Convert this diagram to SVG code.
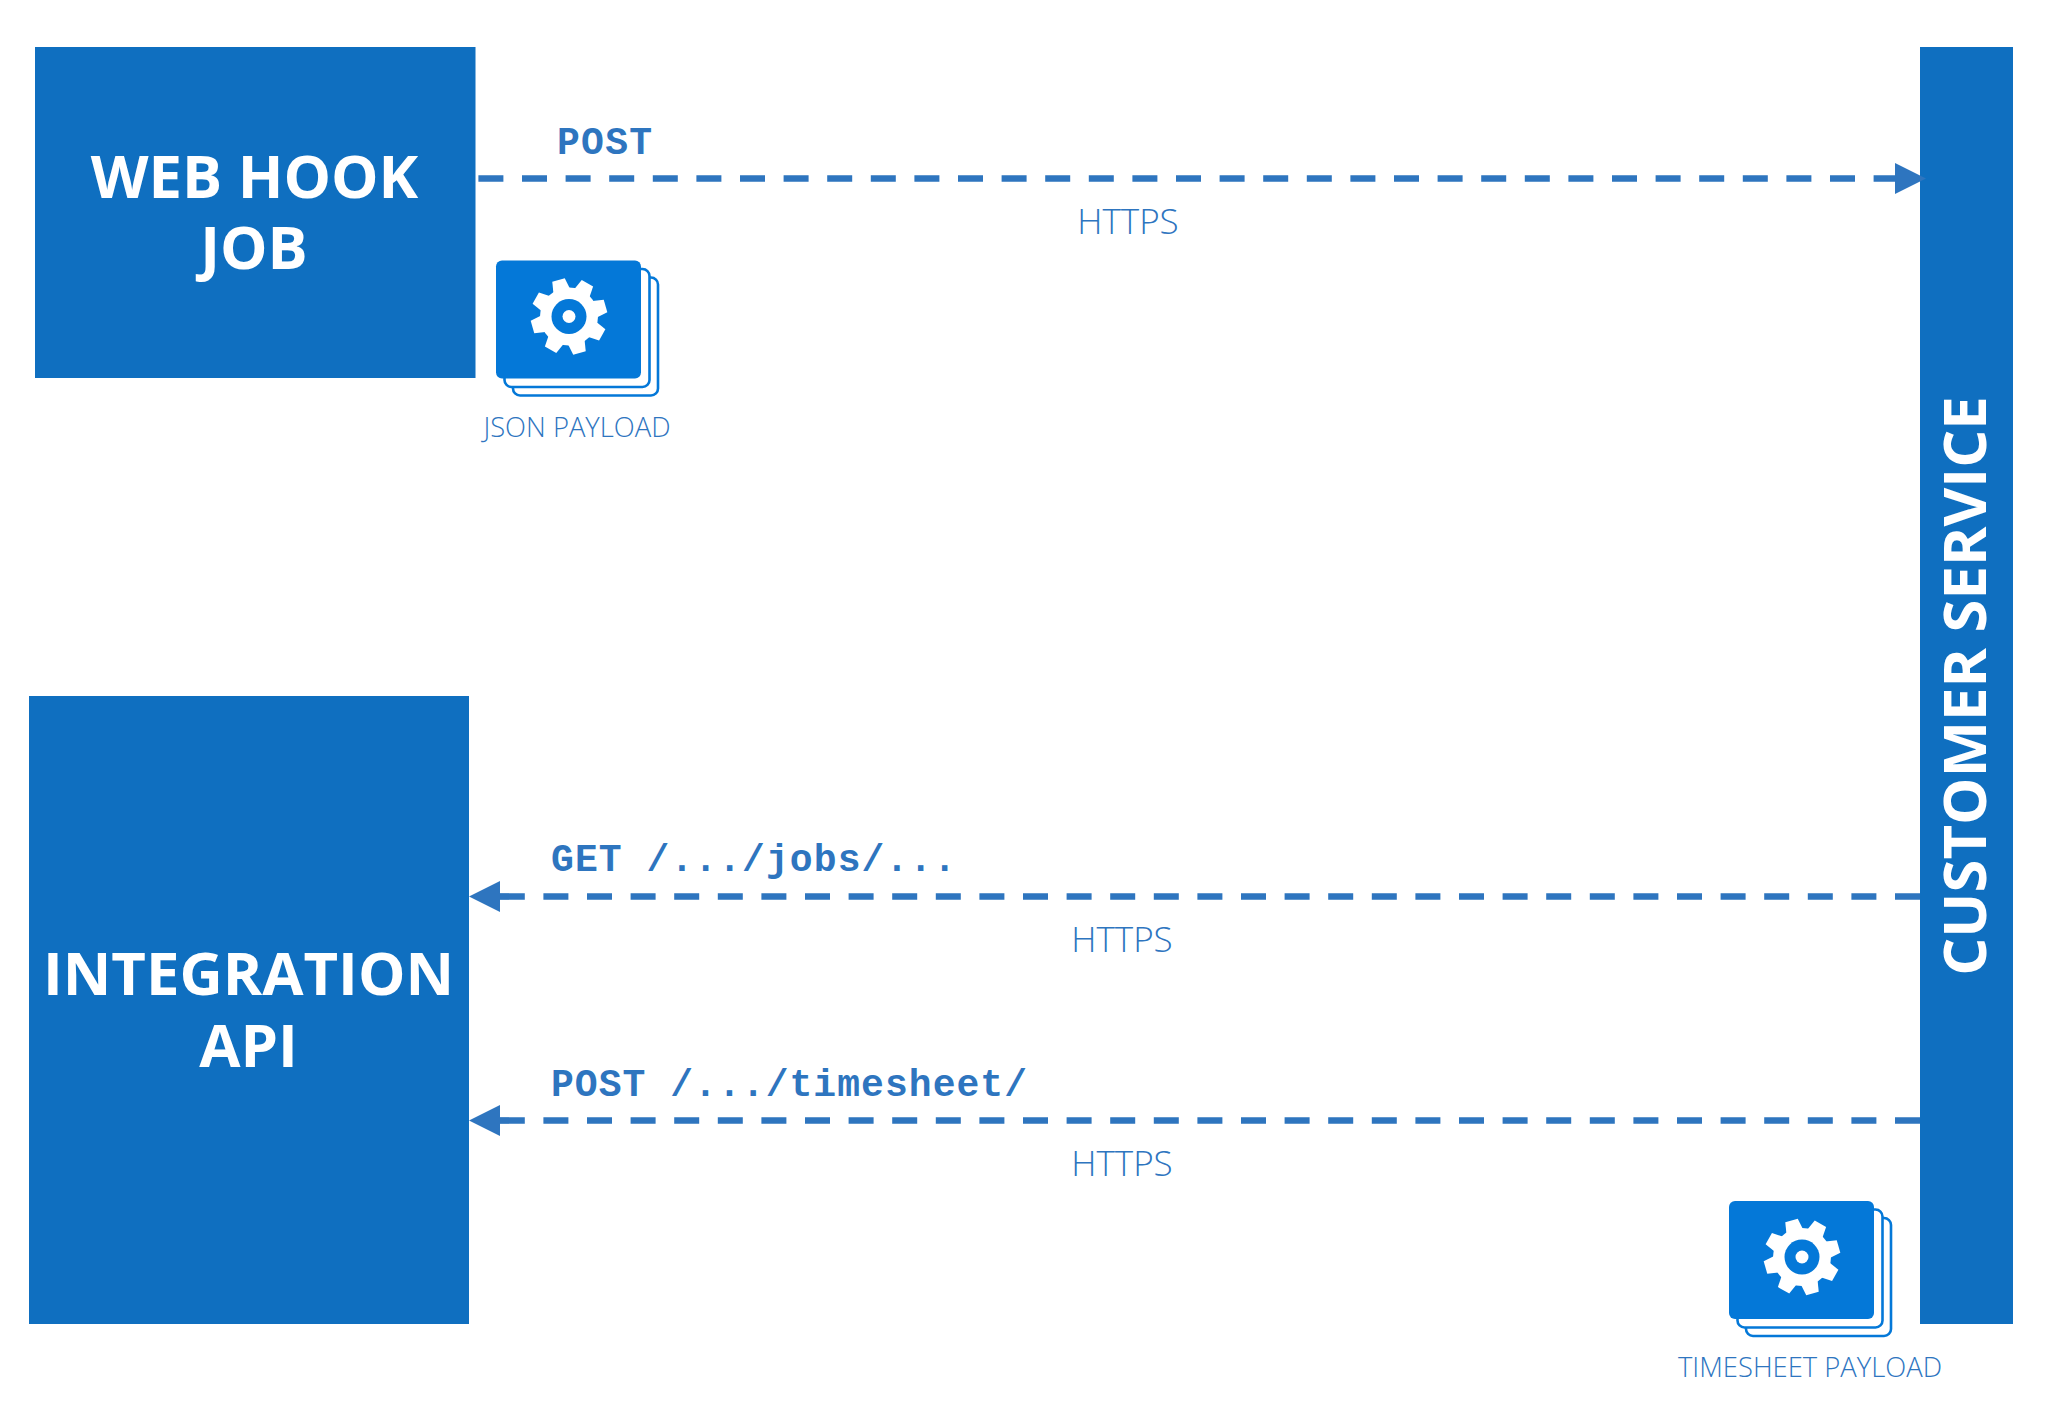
<svg xmlns="http://www.w3.org/2000/svg" width="2048" height="1417" viewBox="0 0 2048 1417">
<style>
.box{fill:#0f6fc0}
.head{font-family:"Open Sans","Noto Sans",sans-serif;font-weight:700;font-size:59.8px;fill:#fff;text-anchor:middle}
.conn{stroke:#2e75bf;stroke-width:6.7;stroke-dasharray:25 18.6;fill:none;marker-end:url(#arrow)}
.verb{font-family:"Liberation Mono",monospace;font-weight:700;font-size:38px;fill:#2e75bf}
.light{font-family:"Open Sans","Noto Sans",sans-serif;font-weight:300;fill:#2e75bf}
.https{font-size:35px;text-anchor:middle}
.pay{font-size:27.4px;text-anchor:middle}
.back{fill:#fff;stroke:#0478d8;stroke-width:2.6}
.front{fill:#0478d8}
</style>
<defs>
<marker id="arrow" markerUnits="userSpaceOnUse" markerWidth="32" markerHeight="32" refX="0" refY="16" orient="auto" viewBox="0 0 32 32"><path d="M0 0.5L31 16L0 31.5Z" fill="#2e75bf"/></marker>
<polygon id="tooth" points="-8.5,-27 -6.5,-38 6.5,-38 8.5,-27" fill="#fff"/>
<g id="stack">
<rect class="back" x="17" y="17" width="145" height="118" rx="7"/>
<rect class="back" x="8.5" y="8.5" width="145" height="118" rx="7"/>
<rect class="front" x="0" y="0" width="145" height="118" rx="6"/>
<g transform="translate(73 56)">
<circle r="29" fill="#fff"/>
<use href="#tooth" transform="rotate(-16)"/>
<use href="#tooth" transform="rotate(29)"/>
<use href="#tooth" transform="rotate(74)"/>
<use href="#tooth" transform="rotate(119)"/>
<use href="#tooth" transform="rotate(164)"/>
<use href="#tooth" transform="rotate(209)"/>
<use href="#tooth" transform="rotate(254)"/>
<use href="#tooth" transform="rotate(299)"/>
<circle r="17.5" fill="#0478d8"/>
<circle r="6.5" fill="#fff"/>
</g>
</g>
</defs>
<rect width="2048" height="1417" fill="#fff"/>
<g id="web-hook-job">
<rect class="box" x="35" y="47" width="440.5" height="331"/>
<text class="head"><tspan x="254.5" y="197.5">WEB HOOK</tspan><tspan x="254" y="268.5">JOB</tspan></text>
</g>
<g id="integration-api">
<rect class="box" x="29" y="696" width="440" height="628"/>
<text class="head"><tspan x="248.5" y="994.5">INTEGRATION</tspan><tspan x="248.5" y="1066.5">API</tspan></text>
</g>
<g id="customer-service">
<rect class="box" x="1920" y="47" width="93" height="1277"/>
<text class="head" transform="translate(1986 686) rotate(-90)">CUSTOMER SERVICE</text>
</g>
<g id="connectors">
<line class="conn" x1="478.4" y1="178.5" x2="1895" y2="178.5"/>
<line class="conn" x1="1920" y1="896.5" x2="500" y2="896.5"/>
<line class="conn" x1="1920" y1="1120.5" x2="500" y2="1120.5"/>
</g>
<g id="connector-labels">
<text class="verb" x="557" y="154" textLength="95" lengthAdjust="spacing">POST</text>
<text class="light https" x="1128" y="234">HTTPS</text>
<text class="verb" x="551" y="871" textLength="405" lengthAdjust="spacing">GET /.../jobs/...</text>
<text class="light https" x="1122" y="952">HTTPS</text>
<text class="verb" x="551" y="1096" textLength="476" lengthAdjust="spacing">POST /.../timesheet/</text>
<text class="light https" x="1122" y="1176">HTTPS</text>
</g>
<g id="json-payload">
<use href="#stack" x="496" y="260.5"/>
<text class="light pay" x="577" y="437">JSON PAYLOAD</text>
</g>
<g id="timesheet-payload">
<use href="#stack" x="1729" y="1201"/>
<text class="light pay" x="1810" y="1377">TIMESHEET PAYLOAD</text>
</g>
</svg>
